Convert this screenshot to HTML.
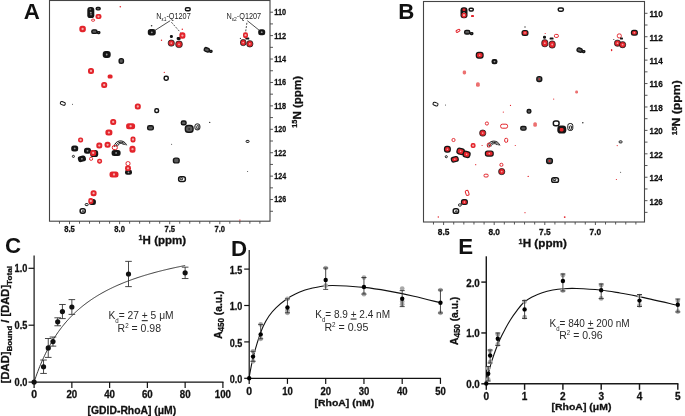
<!DOCTYPE html>
<html><head><meta charset="utf-8"><style>
html,body{margin:0;padding:0;background:#fff;width:685px;height:416px;overflow:hidden}
svg text{font-family:"Liberation Sans",sans-serif}
</style></head><body>
<svg width="685" height="416" viewBox="0 0 685 416" style="display:block;will-change:transform">
<g font-family='"Liberation Sans", sans-serif' fill="#111">
<rect x="0" y="0" width="685" height="416" fill="#fff"/>
<rect x="49.5" y="0.5" width="220.5" height="220.7" fill="none" stroke="#444" stroke-width="1.1"/>
<line x1="59.48" y1="221.2" x2="59.48" y2="223.7" stroke="#444" stroke-width="0.9"/>
<line x1="69.50" y1="221.2" x2="69.50" y2="224.2" stroke="#444" stroke-width="0.9"/>
<line x1="79.52" y1="221.2" x2="79.52" y2="223.7" stroke="#444" stroke-width="0.9"/>
<line x1="89.54" y1="221.2" x2="89.54" y2="223.7" stroke="#444" stroke-width="0.9"/>
<line x1="99.56" y1="221.2" x2="99.56" y2="223.7" stroke="#444" stroke-width="0.9"/>
<line x1="109.58" y1="221.2" x2="109.58" y2="223.7" stroke="#444" stroke-width="0.9"/>
<line x1="119.60" y1="221.2" x2="119.60" y2="224.2" stroke="#444" stroke-width="0.9"/>
<line x1="129.62" y1="221.2" x2="129.62" y2="223.7" stroke="#444" stroke-width="0.9"/>
<line x1="139.64" y1="221.2" x2="139.64" y2="223.7" stroke="#444" stroke-width="0.9"/>
<line x1="149.66" y1="221.2" x2="149.66" y2="223.7" stroke="#444" stroke-width="0.9"/>
<line x1="159.68" y1="221.2" x2="159.68" y2="223.7" stroke="#444" stroke-width="0.9"/>
<line x1="169.70" y1="221.2" x2="169.70" y2="224.2" stroke="#444" stroke-width="0.9"/>
<line x1="179.72" y1="221.2" x2="179.72" y2="223.7" stroke="#444" stroke-width="0.9"/>
<line x1="189.74" y1="221.2" x2="189.74" y2="223.7" stroke="#444" stroke-width="0.9"/>
<line x1="199.76" y1="221.2" x2="199.76" y2="223.7" stroke="#444" stroke-width="0.9"/>
<line x1="209.78" y1="221.2" x2="209.78" y2="223.7" stroke="#444" stroke-width="0.9"/>
<line x1="219.80" y1="221.2" x2="219.80" y2="224.2" stroke="#444" stroke-width="0.9"/>
<line x1="229.82" y1="221.2" x2="229.82" y2="223.7" stroke="#444" stroke-width="0.9"/>
<line x1="239.84" y1="221.2" x2="239.84" y2="223.7" stroke="#444" stroke-width="0.9"/>
<line x1="249.86" y1="221.2" x2="249.86" y2="223.7" stroke="#444" stroke-width="0.9"/>
<line x1="259.88" y1="221.2" x2="259.88" y2="223.7" stroke="#444" stroke-width="0.9"/>
<text x="69.50" y="231.9" text-anchor="middle" font-size="8.6" font-weight="bold" stroke="#111" stroke-width="0.28" textLength="10.6" lengthAdjust="spacingAndGlyphs">8.5</text>
<text x="119.60" y="231.9" text-anchor="middle" font-size="8.6" font-weight="bold" stroke="#111" stroke-width="0.28" textLength="10.6" lengthAdjust="spacingAndGlyphs">8.0</text>
<text x="169.70" y="231.9" text-anchor="middle" font-size="8.6" font-weight="bold" stroke="#111" stroke-width="0.28" textLength="10.6" lengthAdjust="spacingAndGlyphs">7.5</text>
<text x="219.80" y="231.9" text-anchor="middle" font-size="8.6" font-weight="bold" stroke="#111" stroke-width="0.28" textLength="10.6" lengthAdjust="spacingAndGlyphs">7.0</text>
<line x1="270" y1="12.20" x2="273" y2="12.20" stroke="#444" stroke-width="0.9"/>
<text x="274.3" y="15.10" font-size="8.8" font-weight="bold" stroke="#111" stroke-width="0.28" textLength="11.8" lengthAdjust="spacingAndGlyphs">110</text>
<line x1="270" y1="23.91" x2="273" y2="23.91" stroke="#444" stroke-width="0.9"/>
<line x1="270" y1="35.62" x2="273" y2="35.62" stroke="#444" stroke-width="0.9"/>
<text x="274.3" y="38.52" font-size="8.8" font-weight="bold" stroke="#111" stroke-width="0.28" textLength="11.8" lengthAdjust="spacingAndGlyphs">112</text>
<line x1="270" y1="47.33" x2="273" y2="47.33" stroke="#444" stroke-width="0.9"/>
<line x1="270" y1="59.04" x2="273" y2="59.04" stroke="#444" stroke-width="0.9"/>
<text x="274.3" y="61.94" font-size="8.8" font-weight="bold" stroke="#111" stroke-width="0.28" textLength="11.8" lengthAdjust="spacingAndGlyphs">114</text>
<line x1="270" y1="70.75" x2="273" y2="70.75" stroke="#444" stroke-width="0.9"/>
<line x1="270" y1="82.46" x2="273" y2="82.46" stroke="#444" stroke-width="0.9"/>
<text x="274.3" y="85.36" font-size="8.8" font-weight="bold" stroke="#111" stroke-width="0.28" textLength="11.8" lengthAdjust="spacingAndGlyphs">116</text>
<line x1="270" y1="94.17" x2="273" y2="94.17" stroke="#444" stroke-width="0.9"/>
<line x1="270" y1="105.88" x2="273" y2="105.88" stroke="#444" stroke-width="0.9"/>
<text x="274.3" y="108.78" font-size="8.8" font-weight="bold" stroke="#111" stroke-width="0.28" textLength="11.8" lengthAdjust="spacingAndGlyphs">118</text>
<line x1="270" y1="117.59" x2="273" y2="117.59" stroke="#444" stroke-width="0.9"/>
<line x1="270" y1="129.30" x2="273" y2="129.30" stroke="#444" stroke-width="0.9"/>
<text x="274.3" y="132.20" font-size="8.8" font-weight="bold" stroke="#111" stroke-width="0.28" textLength="11.8" lengthAdjust="spacingAndGlyphs">120</text>
<line x1="270" y1="141.01" x2="273" y2="141.01" stroke="#444" stroke-width="0.9"/>
<line x1="270" y1="152.72" x2="273" y2="152.72" stroke="#444" stroke-width="0.9"/>
<text x="274.3" y="155.62" font-size="8.8" font-weight="bold" stroke="#111" stroke-width="0.28" textLength="11.8" lengthAdjust="spacingAndGlyphs">122</text>
<line x1="270" y1="164.43" x2="273" y2="164.43" stroke="#444" stroke-width="0.9"/>
<line x1="270" y1="176.14" x2="273" y2="176.14" stroke="#444" stroke-width="0.9"/>
<text x="274.3" y="179.04" font-size="8.8" font-weight="bold" stroke="#111" stroke-width="0.28" textLength="11.8" lengthAdjust="spacingAndGlyphs">124</text>
<line x1="270" y1="187.85" x2="273" y2="187.85" stroke="#444" stroke-width="0.9"/>
<line x1="270" y1="199.56" x2="273" y2="199.56" stroke="#444" stroke-width="0.9"/>
<text x="274.3" y="202.46" font-size="8.8" font-weight="bold" stroke="#111" stroke-width="0.28" textLength="11.8" lengthAdjust="spacingAndGlyphs">126</text>
<line x1="270" y1="211.27" x2="273" y2="211.27" stroke="#444" stroke-width="0.9"/>
<text x="138.6" y="243.9" font-size="10.8" font-weight="bold" stroke="#111" stroke-width="0.28" textLength="47.6" lengthAdjust="spacingAndGlyphs"><tspan font-size="6.8" dy="-3.8">1</tspan><tspan dy="3.8">H (ppm)</tspan></text>
<rect x="87.30" y="7.10" width="7.00" height="11.00" rx="2.94" ry="2.94" fill="#151515"/>
<circle cx="90.8" cy="12.6" r="0.9" fill="#9a9a9a"/>
<circle cx="90.3" cy="9.3" r="0.95" fill="#6a6a6a"/>
<circle cx="91" cy="14.6" r="1.0" fill="#6a6a6a"/>
<rect x="96.25" y="7.35" width="3.90" height="2.50" rx="1.05" ry="1.05" fill="#5a5a5a" stroke="#151515" stroke-width="1.4"/>
<rect x="91.85" y="29.85" width="5.10" height="3.50" rx="1.47" ry="1.47" fill="#5a5a5a" stroke="#151515" stroke-width="1.4"/>
<rect x="97.45" y="31.75" width="2.30" height="1.70" rx="0.71" ry="0.71" fill="none" stroke="#151515" stroke-width="1.5"/>
<rect x="147.80" y="29.05" width="8.00" height="6.50" rx="2.73" ry="2.73" fill="#151515"/>
<circle cx="151.8" cy="32.3" r="0.9" fill="#9a9a9a"/>
<circle cx="151.6" cy="25.8" r="0.8" fill="#333"/>
<rect x="185.45" y="7.65" width="4.70" height="3.10" rx="1.30" ry="1.30" fill="none" stroke="#151515" stroke-width="1.5"/>
<rect x="169.90" y="34.90" width="3.00" height="3.00" rx="1.26" ry="1.26" fill="#151515"/>
<rect x="176.70" y="36.90" width="4.00" height="3.00" rx="1.26" ry="1.26" fill="#151515"/>
<rect x="258.20" y="29.20" width="7.00" height="6.00" rx="2.52" ry="2.52" fill="#151515"/>
<circle cx="261.7" cy="32.2" r="0.9" fill="#9a9a9a"/>
<rect x="245.30" y="37.60" width="4.00" height="2.00" rx="0.84" ry="0.84" fill="#151515"/>
<circle cx="240.4" cy="38.4" r="0.6" fill="#333"/>
<rect x="204.25" y="47.95" width="5.10" height="3.70" rx="1.55" ry="1.55" fill="#5a5a5a" stroke="#151515" stroke-width="1.4" transform="rotate(20 206.8 49.8)"/>
<rect x="209.65" y="50.55" width="2.30" height="1.70" rx="0.71" ry="0.71" fill="none" stroke="#151515" stroke-width="1.5"/>
<rect x="102.70" y="51.00" width="8.00" height="7.00" rx="2.94" ry="2.94" fill="#151515"/>
<circle cx="106.7" cy="54.5" r="0.9" fill="#9a9a9a"/>
<rect x="119.15" y="58.65" width="4.30" height="4.70" rx="1.81" ry="1.81" fill="#5a5a5a" stroke="#151515" stroke-width="1.4"/>
<rect x="60.30" y="101.90" width="5.00" height="3.00" rx="1.26" ry="1.26" fill="none" stroke="#151515" stroke-width="1" transform="rotate(20 62.8 103.4)"/>
<circle cx="72.5" cy="104.2" r="0.5" fill="#333"/>
<rect x="154.85" y="108.85" width="3.70" height="3.70" rx="1.55" ry="1.55" fill="none" stroke="#151515" stroke-width="1.5"/>
<rect x="164.15" y="76.35" width="4.10" height="3.90" rx="1.64" ry="1.64" fill="none" stroke="#151515" stroke-width="1.5"/>
<rect x="147.65" y="125.75" width="5.70" height="4.10" rx="1.72" ry="1.72" fill="#5a5a5a" stroke="#151515" stroke-width="1.4"/>
<g fill="none" stroke="#151515" stroke-width="1"><path d="M114.20,146.90 C114.70,139.50 124.60,138.90 126.60,145.30"/><path d="M116.00,146.50 C116.40,141.50 123.60,140.90 125.20,145.10"/><path d="M117.60,146.30 C118.00,143.10 122.60,142.50 123.60,144.90"/></g>
<rect x="71.20" y="145.40" width="7.00" height="6.00" rx="2.52" ry="2.52" fill="#151515"/>
<circle cx="74.7" cy="148.4" r="0.9" fill="#9a9a9a"/>
<rect x="84.00" y="147.80" width="7.00" height="6.00" rx="2.52" ry="2.52" fill="#151515"/>
<circle cx="87.5" cy="150.8" r="0.9" fill="#9a9a9a"/>
<rect x="90.20" y="150.10" width="8.00" height="7.00" rx="2.94" ry="2.94" fill="#151515"/>
<circle cx="94.2" cy="153.6" r="0.9" fill="#9a9a9a"/>
<rect x="111.60" y="149.90" width="9.00" height="6.00" rx="2.52" ry="2.52" fill="#151515"/>
<circle cx="116.1" cy="152.9" r="0.9" fill="#9a9a9a"/>
<rect x="72.40" y="155.40" width="2.00" height="2.00" rx="0.84" ry="0.84" fill="none" stroke="#151515" stroke-width="1"/>
<rect x="77.90" y="155.80" width="8.00" height="6.00" rx="2.52" ry="2.52" fill="#151515" transform="rotate(-15 81.9 158.8)"/>
<circle cx="81.9" cy="158.8" r="0.9" fill="#9a9a9a"/>
<rect x="125.00" y="169.80" width="7.00" height="5.00" rx="2.10" ry="2.10" fill="#151515"/>
<circle cx="128.5" cy="172.3" r="0.9" fill="#9a9a9a"/>
<rect x="88.90" y="199.10" width="7.00" height="6.00" rx="2.52" ry="2.52" fill="#151515"/>
<circle cx="92.4" cy="202.1" r="0.9" fill="#9a9a9a"/>
<rect x="85.20" y="203.60" width="3.00" height="2.00" rx="0.84" ry="0.84" fill="none" stroke="#151515" stroke-width="1"/>
<rect x="80.15" y="208.85" width="5.10" height="4.30" rx="1.81" ry="1.81" fill="none" stroke="#151515" stroke-width="1.5"/>
<rect x="82.20" y="210.70" width="1.60" height="1.20" rx="0.50" ry="0.50" fill="none" stroke="#151515" stroke-width="1"/>
<rect x="181.35" y="121.05" width="4.70" height="3.70" rx="1.55" ry="1.55" fill="#5a5a5a" stroke="#151515" stroke-width="1.4"/>
<rect x="185.35" y="125.55" width="7.70" height="6.70" rx="2.81" ry="2.81" fill="#5a5a5a" stroke="#151515" stroke-width="1.4"/>
<circle cx="189.2" cy="129" r="1.0" fill="#333"/>
<rect x="194.90" y="123.90" width="5.00" height="6.00" rx="2.10" ry="2.10" fill="none" stroke="#151515" stroke-width="1"/>
<rect x="196.80" y="125.60" width="2.00" height="3.40" rx="0.84" ry="0.84" fill="none" stroke="#151515" stroke-width="1"/>
<circle cx="209.7" cy="122.4" r="0.7" fill="#333"/>
<circle cx="171.6" cy="144.3" r="0.5" fill="#333"/>
<rect x="246.10" y="140.40" width="3.00" height="2.00" rx="0.84" ry="0.84" fill="none" stroke="#151515" stroke-width="1"/>
<rect x="173.45" y="158.15" width="5.70" height="4.70" rx="1.97" ry="1.97" fill="#5a5a5a" stroke="#151515" stroke-width="1.4"/>
<rect x="178.65" y="176.75" width="6.70" height="4.70" rx="1.97" ry="1.97" fill="none" stroke="#151515" stroke-width="1.5"/>
<rect x="180.10" y="177.90" width="2.60" height="1.80" rx="0.76" ry="0.76" fill="none" stroke="#151515" stroke-width="1"/>
<circle cx="247.6" cy="171.6" r="0.5" fill="#333"/>
<rect x="95.50" y="14.10" width="6.00" height="5.00" rx="2.10" ry="2.10" fill="#e3242b"/>
<circle cx="98.5" cy="16.6" r="1.15" fill="#f4aaaa"/>
<rect x="91.60" y="19.20" width="3.00" height="2.00" rx="0.84" ry="0.84" fill="none" stroke="#e3242b" stroke-width="1"/>
<rect x="79.35" y="25.85" width="6.50" height="6.30" rx="2.65" ry="2.65" fill="#e3242b"/>
<circle cx="82.6" cy="29" r="1.15" fill="#f4aaaa"/>
<circle cx="120.3" cy="6.8" r="0.8" fill="#e3242b"/>
<rect x="179.40" y="32.35" width="6.00" height="6.50" rx="2.52" ry="2.52" fill="#e3242b"/>
<circle cx="182.4" cy="35.6" r="1.15" fill="#f4aaaa"/>
<circle cx="182.3" cy="29.2" r="0.7" fill="#e3242b"/>
<rect x="168.30" y="40.10" width="6.00" height="6.00" rx="2.52" ry="2.52" fill="#e3242b" stroke="#151515" stroke-width="0.8"/>
<circle cx="171.3" cy="43.1" r="0.9" fill="#f5a0a0"/>
<rect x="175.75" y="41.05" width="6.50" height="6.50" rx="2.73" ry="2.73" fill="#e3242b" stroke="#151515" stroke-width="0.8"/>
<circle cx="179" cy="44.3" r="0.9" fill="#f5a0a0"/>
<circle cx="161.5" cy="40.3" r="0.7" fill="#e3242b"/>
<rect x="243.00" y="32.20" width="5.00" height="6.00" rx="2.10" ry="2.10" fill="#e3242b"/>
<circle cx="245.5" cy="35.2" r="1.15" fill="#f4aaaa"/>
<rect x="240.50" y="39.60" width="5.40" height="6.00" rx="2.27" ry="2.27" fill="#e3242b" stroke="#151515" stroke-width="0.8"/>
<circle cx="243.2" cy="42.6" r="0.9" fill="#f5a0a0"/>
<rect x="246.80" y="40.70" width="6.00" height="6.20" rx="2.52" ry="2.52" fill="#e3242b" stroke="#151515" stroke-width="0.8"/>
<circle cx="249.8" cy="43.8" r="0.9" fill="#f5a0a0"/>
<rect x="88.00" y="68.00" width="6.00" height="6.00" rx="2.52" ry="2.52" fill="#e3242b"/>
<circle cx="91" cy="71" r="1.15" fill="#f4aaaa"/>
<rect x="107.60" y="74.60" width="5.00" height="4.00" rx="1.68" ry="1.68" fill="#e3242b"/>
<rect x="101.20" y="82.00" width="6.00" height="6.00" rx="2.52" ry="2.52" fill="#e3242b"/>
<circle cx="104.2" cy="85" r="1.15" fill="#f4aaaa"/>
<rect x="134.80" y="103.50" width="6.00" height="6.00" rx="2.52" ry="2.52" fill="#e3242b"/>
<circle cx="137.8" cy="106.5" r="1.15" fill="#f4aaaa"/>
<circle cx="164.3" cy="72.4" r="0.6" fill="#e3242b"/>
<rect x="110.20" y="118.90" width="6.00" height="6.00" rx="2.52" ry="2.52" fill="#e3242b"/>
<circle cx="113.2" cy="121.9" r="1.15" fill="#f4aaaa"/>
<rect x="126.10" y="123.20" width="9.00" height="6.00" rx="2.52" ry="2.52" fill="#e3242b"/>
<circle cx="130.6" cy="126.2" r="1.15" fill="#f4aaaa"/>
<rect x="105.40" y="129.60" width="7.00" height="6.00" rx="2.52" ry="2.52" fill="#e3242b"/>
<circle cx="108.9" cy="132.6" r="1.15" fill="#f4aaaa"/>
<rect x="78.10" y="137.50" width="5.00" height="5.00" rx="2.10" ry="2.10" fill="#e3242b"/>
<circle cx="80.6" cy="140" r="1.15" fill="#f4aaaa"/>
<rect x="130.50" y="136.50" width="5.00" height="6.00" rx="2.10" ry="2.10" fill="#e3242b"/>
<circle cx="133" cy="139.5" r="1.15" fill="#f4aaaa"/>
<rect x="96.30" y="142.60" width="6.00" height="6.00" rx="2.52" ry="2.52" fill="#e3242b"/>
<circle cx="99.3" cy="145.6" r="1.15" fill="#f4aaaa"/>
<rect x="104.60" y="141.80" width="6.00" height="6.00" rx="2.52" ry="2.52" fill="#e3242b"/>
<circle cx="107.6" cy="144.8" r="1.15" fill="#f4aaaa"/>
<rect x="112.30" y="145.60" width="5.00" height="4.00" rx="1.68" ry="1.68" fill="none" stroke="#e3242b" stroke-width="1"/>
<rect x="129.50" y="145.70" width="6.00" height="7.00" rx="2.52" ry="2.52" fill="#e3242b"/>
<circle cx="132.5" cy="149.2" r="1.15" fill="#f4aaaa"/>
<rect x="90.20" y="149.90" width="6.00" height="6.00" rx="2.52" ry="2.52" fill="#e3242b"/>
<circle cx="93.2" cy="152.9" r="1.15" fill="#f4aaaa"/>
<rect x="89.60" y="157.30" width="3.00" height="3.00" rx="1.26" ry="1.26" fill="none" stroke="#e3242b" stroke-width="1"/>
<rect x="97.10" y="158.70" width="5.00" height="5.00" rx="2.10" ry="2.10" fill="#e3242b"/>
<circle cx="99.6" cy="161.2" r="1.15" fill="#f4aaaa"/>
<rect x="126.00" y="161.60" width="4.00" height="4.00" rx="1.68" ry="1.68" fill="none" stroke="#e3242b" stroke-width="1"/>
<rect x="125.00" y="165.50" width="6.00" height="5.60" rx="2.35" ry="2.35" fill="#e3242b"/>
<circle cx="128" cy="168.3" r="1.15" fill="#f4aaaa"/>
<rect x="109.50" y="171.50" width="9.00" height="6.00" rx="2.52" ry="2.52" fill="#e3242b"/>
<circle cx="114" cy="174.5" r="1.15" fill="#f4aaaa"/>
<rect x="90.60" y="190.20" width="6.00" height="6.00" rx="2.52" ry="2.52" fill="#e3242b"/>
<circle cx="93.6" cy="193.2" r="1.15" fill="#f4aaaa"/>
<rect x="88.30" y="198.00" width="5.00" height="6.00" rx="2.10" ry="2.10" fill="#e3242b"/>
<circle cx="90.8" cy="201" r="1.15" fill="#f4aaaa"/>
<circle cx="239.9" cy="220.1" r="0.7" fill="#e3242b"/>
<rect x="423.5" y="1.5" width="221.0" height="220.5" fill="none" stroke="#444" stroke-width="1.1"/>
<line x1="433.48" y1="222" x2="433.48" y2="224.5" stroke="#444" stroke-width="0.9"/>
<line x1="443.60" y1="222" x2="443.60" y2="225" stroke="#444" stroke-width="0.9"/>
<line x1="453.72" y1="222" x2="453.72" y2="224.5" stroke="#444" stroke-width="0.9"/>
<line x1="463.84" y1="222" x2="463.84" y2="224.5" stroke="#444" stroke-width="0.9"/>
<line x1="473.96" y1="222" x2="473.96" y2="224.5" stroke="#444" stroke-width="0.9"/>
<line x1="484.08" y1="222" x2="484.08" y2="224.5" stroke="#444" stroke-width="0.9"/>
<line x1="494.20" y1="222" x2="494.20" y2="225" stroke="#444" stroke-width="0.9"/>
<line x1="504.32" y1="222" x2="504.32" y2="224.5" stroke="#444" stroke-width="0.9"/>
<line x1="514.44" y1="222" x2="514.44" y2="224.5" stroke="#444" stroke-width="0.9"/>
<line x1="524.56" y1="222" x2="524.56" y2="224.5" stroke="#444" stroke-width="0.9"/>
<line x1="534.68" y1="222" x2="534.68" y2="224.5" stroke="#444" stroke-width="0.9"/>
<line x1="544.80" y1="222" x2="544.80" y2="225" stroke="#444" stroke-width="0.9"/>
<line x1="554.92" y1="222" x2="554.92" y2="224.5" stroke="#444" stroke-width="0.9"/>
<line x1="565.04" y1="222" x2="565.04" y2="224.5" stroke="#444" stroke-width="0.9"/>
<line x1="575.16" y1="222" x2="575.16" y2="224.5" stroke="#444" stroke-width="0.9"/>
<line x1="585.28" y1="222" x2="585.28" y2="224.5" stroke="#444" stroke-width="0.9"/>
<line x1="595.40" y1="222" x2="595.40" y2="225" stroke="#444" stroke-width="0.9"/>
<line x1="605.52" y1="222" x2="605.52" y2="224.5" stroke="#444" stroke-width="0.9"/>
<line x1="615.64" y1="222" x2="615.64" y2="224.5" stroke="#444" stroke-width="0.9"/>
<line x1="625.76" y1="222" x2="625.76" y2="224.5" stroke="#444" stroke-width="0.9"/>
<line x1="635.88" y1="222" x2="635.88" y2="224.5" stroke="#444" stroke-width="0.9"/>
<text x="443.60" y="234.6" text-anchor="middle" font-size="8.6" font-weight="bold" stroke="#111" stroke-width="0.28" textLength="11.6" lengthAdjust="spacingAndGlyphs">8.5</text>
<text x="494.20" y="234.6" text-anchor="middle" font-size="8.6" font-weight="bold" stroke="#111" stroke-width="0.28" textLength="11.6" lengthAdjust="spacingAndGlyphs">8.0</text>
<text x="544.80" y="234.6" text-anchor="middle" font-size="8.6" font-weight="bold" stroke="#111" stroke-width="0.28" textLength="11.6" lengthAdjust="spacingAndGlyphs">7.5</text>
<text x="595.40" y="234.6" text-anchor="middle" font-size="8.6" font-weight="bold" stroke="#111" stroke-width="0.28" textLength="11.6" lengthAdjust="spacingAndGlyphs">7.0</text>
<line x1="644.5" y1="13.30" x2="647.5" y2="13.30" stroke="#444" stroke-width="0.9"/>
<text x="649.5" y="17.20" font-size="8.8" font-weight="bold" stroke="#111" stroke-width="0.28" textLength="13.2" lengthAdjust="spacingAndGlyphs">110</text>
<line x1="644.5" y1="25.01" x2="647.5" y2="25.01" stroke="#444" stroke-width="0.9"/>
<line x1="644.5" y1="36.72" x2="647.5" y2="36.72" stroke="#444" stroke-width="0.9"/>
<text x="649.5" y="40.62" font-size="8.8" font-weight="bold" stroke="#111" stroke-width="0.28" textLength="13.2" lengthAdjust="spacingAndGlyphs">112</text>
<line x1="644.5" y1="48.43" x2="647.5" y2="48.43" stroke="#444" stroke-width="0.9"/>
<line x1="644.5" y1="60.14" x2="647.5" y2="60.14" stroke="#444" stroke-width="0.9"/>
<text x="649.5" y="64.04" font-size="8.8" font-weight="bold" stroke="#111" stroke-width="0.28" textLength="13.2" lengthAdjust="spacingAndGlyphs">114</text>
<line x1="644.5" y1="71.85" x2="647.5" y2="71.85" stroke="#444" stroke-width="0.9"/>
<line x1="644.5" y1="83.56" x2="647.5" y2="83.56" stroke="#444" stroke-width="0.9"/>
<text x="649.5" y="87.46" font-size="8.8" font-weight="bold" stroke="#111" stroke-width="0.28" textLength="13.2" lengthAdjust="spacingAndGlyphs">116</text>
<line x1="644.5" y1="95.27" x2="647.5" y2="95.27" stroke="#444" stroke-width="0.9"/>
<line x1="644.5" y1="106.98" x2="647.5" y2="106.98" stroke="#444" stroke-width="0.9"/>
<text x="649.5" y="110.88" font-size="8.8" font-weight="bold" stroke="#111" stroke-width="0.28" textLength="13.2" lengthAdjust="spacingAndGlyphs">118</text>
<line x1="644.5" y1="118.69" x2="647.5" y2="118.69" stroke="#444" stroke-width="0.9"/>
<line x1="644.5" y1="130.40" x2="647.5" y2="130.40" stroke="#444" stroke-width="0.9"/>
<text x="649.5" y="134.30" font-size="8.8" font-weight="bold" stroke="#111" stroke-width="0.28" textLength="13.2" lengthAdjust="spacingAndGlyphs">120</text>
<line x1="644.5" y1="142.11" x2="647.5" y2="142.11" stroke="#444" stroke-width="0.9"/>
<line x1="644.5" y1="153.82" x2="647.5" y2="153.82" stroke="#444" stroke-width="0.9"/>
<text x="649.5" y="157.72" font-size="8.8" font-weight="bold" stroke="#111" stroke-width="0.28" textLength="13.2" lengthAdjust="spacingAndGlyphs">122</text>
<line x1="644.5" y1="165.53" x2="647.5" y2="165.53" stroke="#444" stroke-width="0.9"/>
<line x1="644.5" y1="177.24" x2="647.5" y2="177.24" stroke="#444" stroke-width="0.9"/>
<text x="649.5" y="181.14" font-size="8.8" font-weight="bold" stroke="#111" stroke-width="0.28" textLength="13.2" lengthAdjust="spacingAndGlyphs">124</text>
<line x1="644.5" y1="188.95" x2="647.5" y2="188.95" stroke="#444" stroke-width="0.9"/>
<line x1="644.5" y1="200.66" x2="647.5" y2="200.66" stroke="#444" stroke-width="0.9"/>
<text x="649.5" y="204.56" font-size="8.8" font-weight="bold" stroke="#111" stroke-width="0.28" textLength="13.2" lengthAdjust="spacingAndGlyphs">126</text>
<line x1="644.5" y1="212.37" x2="647.5" y2="212.37" stroke="#444" stroke-width="0.9"/>
<text x="518.6" y="247.3" font-size="10.8" font-weight="bold" stroke="#111" stroke-width="0.28" textLength="48.2" lengthAdjust="spacingAndGlyphs"><tspan font-size="6.8" dy="-3.8">1</tspan><tspan dy="3.8">H (ppm)</tspan></text>
<rect x="460.50" y="7.30" width="7.00" height="11.00" rx="2.94" ry="2.94" fill="#151515"/>
<circle cx="464" cy="12.8" r="0.9" fill="#9a9a9a"/>
<rect x="461.50" y="12.70" width="5.00" height="5.00" rx="2.10" ry="2.10" fill="#e3242b"/>
<circle cx="464" cy="15.2" r="1.15" fill="#f4aaaa"/>
<rect x="462.50" y="8.50" width="3.00" height="2.60" rx="1.09" ry="1.09" fill="#e3242b"/>
<rect x="469.15" y="8.15" width="4.10" height="2.90" rx="1.22" ry="1.22" fill="none" stroke="#151515" stroke-width="1.5"/>
<rect x="471.00" y="15.10" width="3.00" height="2.00" rx="0.84" ry="0.84" fill="#e3242b"/>
<rect x="456.00" y="29.80" width="4.00" height="2.00" rx="0.84" ry="0.84" fill="none" stroke="#e3242b" stroke-width="1" transform="rotate(-30 458 30.8)"/>
<rect x="464.65" y="30.35" width="5.10" height="3.70" rx="1.55" ry="1.55" fill="#5a5a5a" stroke="#151515" stroke-width="1.4"/>
<rect x="470.45" y="32.75" width="2.30" height="1.70" rx="0.71" ry="0.71" fill="none" stroke="#151515" stroke-width="1.5"/>
<rect x="521.50" y="29.90" width="7.00" height="6.00" rx="2.52" ry="2.52" fill="#151515"/>
<rect x="522.70" y="31.10" width="4.60" height="3.60" rx="1.51" ry="1.51" fill="#e3242b"/>
<circle cx="525" cy="32.9" r="0.8" fill="#f5a0a0"/>
<circle cx="525" cy="27" r="0.7" fill="#333"/>
<rect x="475.70" y="51.70" width="8.00" height="7.00" rx="2.94" ry="2.94" fill="#151515"/>
<rect x="476.90" y="52.90" width="5.60" height="4.60" rx="1.93" ry="1.93" fill="#e3242b"/>
<circle cx="479.7" cy="55.2" r="0.8" fill="#f5a0a0"/>
<rect x="491.50" y="58.90" width="6.00" height="5.40" rx="2.27" ry="2.27" fill="#151515"/>
<circle cx="494.5" cy="61.6" r="0.9" fill="#9a9a9a"/>
<rect x="558.25" y="7.95" width="5.10" height="3.30" rx="1.39" ry="1.39" fill="none" stroke="#151515" stroke-width="1.5"/>
<rect x="543.00" y="35.70" width="3.00" height="3.00" rx="1.26" ry="1.26" fill="#151515"/>
<circle cx="545.2" cy="33.5" r="0.6" fill="#e3242b"/>
<rect x="541.80" y="39.70" width="6.00" height="7.00" rx="2.52" ry="2.52" fill="#e3242b" stroke="#151515" stroke-width="0.8"/>
<circle cx="544.8" cy="43.2" r="0.9" fill="#f5a0a0"/>
<rect x="549.60" y="37.60" width="4.00" height="2.00" rx="0.84" ry="0.84" fill="#151515"/>
<rect x="549.20" y="41.00" width="6.00" height="7.00" rx="2.52" ry="2.52" fill="#e3242b" stroke="#151515" stroke-width="0.8"/>
<circle cx="552.2" cy="44.5" r="0.9" fill="#f5a0a0"/>
<rect x="554.40" y="34.40" width="4.00" height="3.00" rx="1.26" ry="1.26" fill="none" stroke="#e3242b" stroke-width="1"/>
<rect x="577.05" y="48.25" width="5.10" height="3.70" rx="1.55" ry="1.55" fill="#5a5a5a" stroke="#151515" stroke-width="1.4" transform="rotate(20 579.6 50.1)"/>
<rect x="582.45" y="50.75" width="2.30" height="1.70" rx="0.71" ry="0.71" fill="none" stroke="#151515" stroke-width="1.5"/>
<rect x="617.30" y="33.90" width="4.00" height="4.00" rx="1.68" ry="1.68" fill="none" stroke="#e3242b" stroke-width="1"/>
<rect x="620.00" y="37.60" width="3.00" height="2.00" rx="0.84" ry="0.84" fill="#151515"/>
<rect x="614.50" y="40.20" width="6.00" height="6.00" rx="2.52" ry="2.52" fill="#e3242b" stroke="#151515" stroke-width="0.8"/>
<circle cx="617.5" cy="43.2" r="0.9" fill="#f5a0a0"/>
<rect x="619.60" y="41.70" width="6.00" height="6.00" rx="2.52" ry="2.52" fill="#e3242b" stroke="#151515" stroke-width="0.8"/>
<circle cx="622.6" cy="44.7" r="0.9" fill="#f5a0a0"/>
<circle cx="613.8" cy="39.5" r="0.6" fill="#333"/>
<circle cx="611.6" cy="49.7" r="0.7" fill="#e3242b"/>
<rect x="630.90" y="29.70" width="7.00" height="6.00" rx="2.52" ry="2.52" fill="#151515"/>
<rect x="632.10" y="30.90" width="4.60" height="3.60" rx="1.51" ry="1.51" fill="#e3242b"/>
<circle cx="634.4" cy="32.7" r="0.8" fill="#f5a0a0"/>
<rect x="462.70" y="70.60" width="3.40" height="3.80" rx="1.43" ry="1.43" fill="#ec7070"/>
<rect x="476.00" y="82.20" width="3.80" height="4.60" rx="1.60" ry="1.60" fill="#ec7070"/>
<rect x="433.00" y="102.60" width="5.00" height="3.00" rx="1.26" ry="1.26" fill="none" stroke="#151515" stroke-width="1" transform="rotate(20 435.5 104.1)"/>
<circle cx="445.5" cy="104.9" r="0.5" fill="#333"/>
<circle cx="510.5" cy="105.4" r="0.6" fill="#e3242b"/>
<circle cx="503.3" cy="112.1" r="0.6" fill="#e3242b"/>
<rect x="527.15" y="109.45" width="3.70" height="3.70" rx="1.55" ry="1.55" fill="#5a5a5a" stroke="#151515" stroke-width="1.4"/>
<rect x="536.85" y="76.65" width="4.90" height="4.90" rx="2.06" ry="2.06" fill="#5a5a5a" stroke="#151515" stroke-width="1.4"/>
<circle cx="539.3" cy="79.1" r="0.8" fill="#e3242b"/>
<rect x="575.20" y="90.60" width="2.80" height="2.80" rx="1.18" ry="1.18" fill="#ec7070"/>
<circle cx="553.7" cy="99.1" r="0.6" fill="#e3242b"/>
<circle cx="611.6" cy="50.5" r="0.7" fill="#e3242b"/>
<rect x="485.40" y="122.00" width="3.00" height="3.00" rx="1.26" ry="1.26" fill="none" stroke="#e3242b" stroke-width="1"/>
<rect x="500.60" y="124.20" width="7.00" height="4.00" rx="1.68" ry="1.68" fill="none" stroke="#e3242b" stroke-width="1"/>
<rect x="520.75" y="126.45" width="5.30" height="3.70" rx="1.55" ry="1.55" fill="#5a5a5a" stroke="#151515" stroke-width="1.4"/>
<rect x="479.70" y="130.10" width="6.00" height="6.00" rx="2.52" ry="2.52" fill="#e3242b" stroke="#151515" stroke-width="0.8"/>
<circle cx="482.7" cy="133.1" r="0.9" fill="#f5a0a0"/>
<rect x="452.00" y="138.50" width="3.00" height="3.00" rx="1.26" ry="1.26" fill="none" stroke="#e3242b" stroke-width="1"/>
<rect x="504.70" y="138.30" width="3.00" height="4.00" rx="1.26" ry="1.26" fill="none" stroke="#e3242b" stroke-width="1"/>
<g fill="none" stroke="#151515" stroke-width="1"><path d="M487.50,147.10 C488.00,139.70 497.90,139.10 499.90,145.50"/><path d="M489.30,146.70 C489.70,141.70 496.90,141.10 498.50,145.30"/><path d="M490.90,146.50 C491.30,143.30 495.90,142.70 496.90,145.10"/></g>
<rect x="470.60" y="143.10" width="5.00" height="5.00" rx="2.10" ry="2.10" fill="#e3242b"/>
<circle cx="473.1" cy="145.6" r="1.15" fill="#f4aaaa"/>
<rect x="487.30" y="143.10" width="3.00" height="4.00" rx="1.26" ry="1.26" fill="none" stroke="#e3242b" stroke-width="1"/>
<circle cx="482.1" cy="145.5" r="0.6" fill="#e3242b"/>
<circle cx="515.3" cy="145.5" r="0.6" fill="#e3242b"/>
<rect x="443.90" y="145.70" width="7.00" height="7.00" rx="2.94" ry="2.94" fill="#151515"/>
<rect x="445.10" y="146.90" width="4.60" height="4.60" rx="1.93" ry="1.93" fill="#e3242b"/>
<circle cx="447.4" cy="149.2" r="0.8" fill="#f5a0a0"/>
<rect x="456.40" y="147.90" width="8.40" height="7.00" rx="2.94" ry="2.94" fill="#151515" transform="rotate(15 460.6 151.4)"/>
<rect x="457.60" y="149.10" width="6.00" height="4.60" rx="1.93" ry="1.93" fill="#e3242b" transform="rotate(15 460.6 151.4)"/>
<circle cx="460.6" cy="151.4" r="0.8" fill="#f5a0a0"/>
<rect x="462.60" y="150.90" width="8.00" height="7.00" rx="2.94" ry="2.94" fill="#151515" transform="rotate(15 466.6 154.4)"/>
<rect x="463.80" y="152.10" width="5.60" height="4.60" rx="1.93" ry="1.93" fill="#e3242b" transform="rotate(15 466.6 154.4)"/>
<circle cx="466.6" cy="154.4" r="0.8" fill="#f5a0a0"/>
<rect x="484.80" y="150.40" width="9.00" height="6.40" rx="2.69" ry="2.69" fill="#151515"/>
<rect x="486.00" y="151.60" width="6.60" height="4.00" rx="1.68" ry="1.68" fill="#e3242b"/>
<circle cx="489.3" cy="153.6" r="0.8" fill="#f5a0a0"/>
<rect x="445.30" y="155.70" width="2.00" height="2.00" rx="0.84" ry="0.84" fill="none" stroke="#151515" stroke-width="1"/>
<rect x="450.80" y="156.30" width="8.00" height="6.00" rx="2.52" ry="2.52" fill="#151515" transform="rotate(-15 454.8 159.3)"/>
<rect x="452.00" y="157.50" width="5.60" height="3.60" rx="1.51" ry="1.51" fill="#e3242b" transform="rotate(-15 454.8 159.3)"/>
<circle cx="454.8" cy="159.3" r="0.8" fill="#f5a0a0"/>
<circle cx="475.7" cy="164.7" r="0.6" fill="#e3242b"/>
<rect x="499.90" y="163.30" width="3.00" height="3.00" rx="1.26" ry="1.26" fill="none" stroke="#e3242b" stroke-width="1"/>
<rect x="498.70" y="168.60" width="6.00" height="6.00" rx="2.52" ry="2.52" fill="#e3242b" stroke="#151515" stroke-width="0.8"/>
<circle cx="501.7" cy="171.6" r="0.9" fill="#f5a0a0"/>
<rect x="484.00" y="174.20" width="4.20" height="2.80" rx="1.18" ry="1.18" fill="none" stroke="#e3242b" stroke-width="1"/>
<circle cx="528.2" cy="176.4" r="0.7" fill="#e3242b"/>
<rect x="465.70" y="190.40" width="3.00" height="5.00" rx="1.26" ry="1.26" fill="none" stroke="#e3242b" stroke-width="1" transform="rotate(-20 467.2 192.9)"/>
<rect x="460.90" y="199.10" width="7.00" height="6.00" rx="2.52" ry="2.52" fill="#151515"/>
<rect x="462.10" y="200.30" width="4.60" height="3.60" rx="1.51" ry="1.51" fill="#e3242b"/>
<circle cx="464.4" cy="202.1" r="0.8" fill="#f5a0a0"/>
<rect x="458.50" y="203.90" width="2.80" height="2.20" rx="0.92" ry="0.92" fill="none" stroke="#151515" stroke-width="1"/>
<rect x="453.25" y="208.85" width="5.30" height="4.50" rx="1.89" ry="1.89" fill="none" stroke="#151515" stroke-width="1.5"/>
<rect x="455.40" y="210.80" width="1.60" height="1.20" rx="0.50" ry="0.50" fill="none" stroke="#151515" stroke-width="1"/>
<circle cx="438.3" cy="217" r="0.7" fill="#e3242b"/>
<circle cx="525" cy="212.7" r="0.6" fill="#e3242b"/>
<rect x="533.30" y="122.20" width="3.60" height="4.60" rx="1.51" ry="1.51" fill="#ec7070"/>
<rect x="553.35" y="120.95" width="5.70" height="4.70" rx="1.97" ry="1.97" fill="none" stroke="#151515" stroke-width="1.5"/>
<rect x="557.30" y="125.60" width="9.00" height="8.00" rx="3.36" ry="3.36" fill="#151515"/>
<circle cx="561.8" cy="129.6" r="0.9" fill="#9a9a9a"/>
<rect x="559.60" y="128.10" width="4.00" height="3.40" rx="1.43" ry="1.43" fill="#e3242b"/>
<rect x="567.80" y="123.50" width="5.00" height="7.00" rx="2.10" ry="2.10" fill="none" stroke="#151515" stroke-width="1"/>
<rect x="569.60" y="125.85" width="2.00" height="3.50" rx="0.84" ry="0.84" fill="none" stroke="#151515" stroke-width="1"/>
<circle cx="582.8" cy="122.8" r="0.8" fill="#333"/>
<rect x="619.10" y="140.90" width="3.00" height="2.00" rx="0.84" ry="0.84" fill="none" stroke="#151515" stroke-width="1"/>
<circle cx="617.2" cy="145.6" r="0.6" fill="#e3242b"/>
<rect x="546.65" y="158.35" width="5.70" height="5.10" rx="2.14" ry="2.14" fill="#5a5a5a" stroke="#151515" stroke-width="1.4"/>
<circle cx="549.5" cy="161" r="0.9" fill="#e3242b"/>
<rect x="551.75" y="177.65" width="6.70" height="4.70" rx="1.97" ry="1.97" fill="none" stroke="#151515" stroke-width="1.5"/>
<rect x="553.20" y="178.80" width="2.60" height="1.80" rx="0.76" ry="0.76" fill="none" stroke="#151515" stroke-width="1"/>
<circle cx="620.6" cy="172.2" r="0.5" fill="#333"/>
<circle cx="616.4" cy="179.5" r="0.6" fill="#e3242b"/>
<circle cx="564.7" cy="217.1" r="0.9" fill="#e3242b"/>
<text transform="translate(300.6 101.9) rotate(-90)" text-anchor="middle" font-size="11" font-weight="bold" stroke="#111" stroke-width="0.28" textLength="51.8" lengthAdjust="spacingAndGlyphs"><tspan font-size="7" dy="-3.8">15</tspan><tspan dy="3.8">N (ppm)</tspan></text>
<text transform="translate(680.3000000000001 107.7) rotate(-90)" text-anchor="middle" font-size="11" font-weight="bold" stroke="#111" stroke-width="0.28" textLength="55" lengthAdjust="spacingAndGlyphs"><tspan font-size="7" dy="-3.8">15</tspan><tspan dy="3.8">N (ppm)</tspan></text>
<g font-size="8.3" fill="#1e1e1e">
<text x="156.3" y="19" textLength="34.4" lengthAdjust="spacingAndGlyphs">N<tspan font-size="5.6" dy="2.4">ε1</tspan><tspan dy="-2.4">-Q1207</tspan></text>
<text x="226.6" y="19" textLength="34.6" lengthAdjust="spacingAndGlyphs">N<tspan font-size="5.6" dy="2.4">ε2</tspan><tspan dy="-2.4">-Q1207</tspan></text>
</g>
<g stroke="#222" stroke-width="0.8" fill="none">
<line x1="170.2" y1="20.7" x2="154" y2="31"/>
<line x1="171.4" y1="22.2" x2="180.5" y2="32.5" stroke-dasharray="2,1.3"/>
<line x1="247.3" y1="20.7" x2="259.5" y2="30.5"/>
<line x1="246.9" y1="22.8" x2="245.6" y2="32" stroke-dasharray="2,1.3"/>
</g>
<g stroke="#111" stroke-width="1.2" fill="none">
<line x1="34.1" y1="255.6" x2="34.1" y2="382.1"/>
<line x1="34.1" y1="382.1" x2="223.49999999999997" y2="382.1"/>
<line x1="28.5" y1="382.10" x2="34.1" y2="382.10"/>
<line x1="28.5" y1="325.20" x2="34.1" y2="325.20"/>
<line x1="28.5" y1="268.30" x2="34.1" y2="268.30"/>
<line x1="34.10" y1="382.1" x2="34.10" y2="387.90000000000003"/>
<line x1="71.86" y1="382.1" x2="71.86" y2="387.90000000000003"/>
<line x1="109.62" y1="382.1" x2="109.62" y2="387.90000000000003"/>
<line x1="147.38" y1="382.1" x2="147.38" y2="387.90000000000003"/>
<line x1="185.14" y1="382.1" x2="185.14" y2="387.90000000000003"/>
<line x1="222.90" y1="382.1" x2="222.90" y2="387.90000000000003"/>
</g>
<polyline points="34.10,382.10 35.04,379.27 35.99,376.53 36.93,373.89 37.88,371.35 38.82,368.89 39.76,366.51 40.71,364.21 41.65,361.98 42.60,359.83 43.54,357.74 44.48,355.72 45.43,353.75 46.37,351.85 47.32,350.00 48.26,348.21 49.20,346.46 50.15,344.77 51.09,343.12 52.04,341.52 52.98,339.96 53.92,338.45 54.87,336.97 55.81,335.53 56.76,334.13 57.70,332.76 58.64,331.43 59.59,330.13 60.53,328.86 61.48,327.63 62.42,326.42 63.36,325.24 64.31,324.09 65.25,322.96 66.20,321.86 67.14,320.79 68.08,319.74 69.03,318.71 69.97,317.70 70.92,316.72 71.86,315.76 72.80,314.81 73.75,313.89 74.69,312.99 75.64,312.10 76.58,311.23 77.52,310.38 78.47,309.55 79.41,308.73 80.36,307.93 81.30,307.15 82.24,306.37 83.19,305.62 84.13,304.88 85.08,304.15 86.02,303.43 86.96,302.73 87.91,302.04 88.85,301.36 89.80,300.70 90.74,300.04 91.68,299.40 92.63,298.77 93.57,298.15 94.52,297.54 95.46,296.94 96.40,296.35 97.35,295.77 98.29,295.20 99.24,294.64 100.18,294.09 101.12,293.55 102.07,293.01 103.01,292.48 103.96,291.97 104.90,291.46 105.84,290.95 106.79,290.46 107.73,289.97 108.68,289.49 109.62,289.02 110.56,288.56 111.51,288.10 112.45,287.65 113.40,287.20 114.34,286.76 115.28,286.33 116.23,285.90 117.17,285.48 118.12,285.07 119.06,284.66 120.00,284.26 120.95,283.86 121.89,283.47 122.84,283.08 123.78,282.70 124.72,282.32 125.67,281.95 126.61,281.58 127.56,281.22 128.50,280.86 129.44,280.51 130.39,280.16 131.33,279.82 132.28,279.48 133.22,279.14 134.16,278.81 135.11,278.49 136.05,278.16 137.00,277.84 137.94,277.53 138.88,277.22 139.83,276.91 140.77,276.61 141.72,276.31 142.66,276.01 143.60,275.72 144.55,275.43 145.49,275.14 146.44,274.86 147.38,274.58 148.32,274.30 149.27,274.03 150.21,273.76 151.16,273.49 152.10,273.23 153.04,272.97 153.99,272.71 154.93,272.45 155.88,272.20 156.82,271.95 157.76,271.70 158.71,271.46 159.65,271.21 160.60,270.98 161.54,270.74 162.48,270.50 163.43,270.27 164.37,270.04 165.32,269.82 166.26,269.59 167.20,269.37 168.15,269.15 169.09,268.93 170.04,268.71 170.98,268.50 171.92,268.29 172.87,268.08 173.81,267.87 174.76,267.67 175.70,267.46 176.64,267.26 177.59,267.06 178.53,266.87 179.48,266.67 180.42,266.48 181.36,266.28 182.31,266.09 183.25,265.91 184.20,265.72 185.14,265.53" fill="none" stroke="#222" stroke-width="0.9"/>
<circle cx="34.10" cy="382.10" r="2.6" fill="#111"/>
<g stroke="#333" stroke-width="0.9"><line x1="43.54" y1="360.02" x2="43.54" y2="373.45"/><line x1="40.24" y1="360.02" x2="46.84" y2="360.02"/><line x1="40.24" y1="373.45" x2="46.84" y2="373.45"/></g>
<circle cx="43.54" cy="366.74" r="2.6" fill="#111"/>
<g stroke="#333" stroke-width="0.9"><line x1="48.26" y1="338.51" x2="48.26" y2="357.41"/><line x1="44.96" y1="338.51" x2="51.56" y2="338.51"/><line x1="44.96" y1="357.41" x2="51.56" y2="357.41"/></g>
<circle cx="48.26" cy="347.96" r="2.6" fill="#111"/>
<g stroke="#333" stroke-width="0.9"><line x1="52.98" y1="337.04" x2="52.98" y2="346.14"/><line x1="49.68" y1="337.04" x2="56.28" y2="337.04"/><line x1="49.68" y1="346.14" x2="56.28" y2="346.14"/></g>
<circle cx="52.98" cy="341.59" r="2.6" fill="#111"/>
<g stroke="#333" stroke-width="0.9"><line x1="57.70" y1="317.80" x2="57.70" y2="325.77"/><line x1="54.40" y1="317.80" x2="61.00" y2="317.80"/><line x1="54.40" y1="325.77" x2="61.00" y2="325.77"/></g>
<circle cx="57.70" cy="321.79" r="2.6" fill="#111"/>
<g stroke="#333" stroke-width="0.9"><line x1="62.42" y1="304.49" x2="62.42" y2="318.60"/><line x1="59.12" y1="304.49" x2="65.72" y2="304.49"/><line x1="59.12" y1="318.60" x2="65.72" y2="318.60"/></g>
<circle cx="62.42" cy="311.54" r="2.6" fill="#111"/>
<g stroke="#333" stroke-width="0.9"><line x1="71.86" y1="299.60" x2="71.86" y2="314.39"/><line x1="68.56" y1="299.60" x2="75.16" y2="299.60"/><line x1="68.56" y1="314.39" x2="75.16" y2="314.39"/></g>
<circle cx="71.86" cy="306.99" r="2.6" fill="#111"/>
<g stroke="#333" stroke-width="0.9"><line x1="128.50" y1="261.36" x2="128.50" y2="286.62"/><line x1="125.20" y1="261.36" x2="131.80" y2="261.36"/><line x1="125.20" y1="286.62" x2="131.80" y2="286.62"/></g>
<circle cx="128.50" cy="273.99" r="2.6" fill="#111"/>
<g stroke="#333" stroke-width="0.9"><line x1="185.14" y1="267.16" x2="185.14" y2="278.54"/><line x1="181.84" y1="267.16" x2="188.44" y2="267.16"/><line x1="181.84" y1="278.54" x2="188.44" y2="278.54"/></g>
<circle cx="185.14" cy="272.85" r="2.6" fill="#111"/>
<text x="27.40" y="385.70" font-size="10.2" font-weight="bold" stroke="#111" stroke-width="0.28" text-anchor="end" textLength="12.8" lengthAdjust="spacingAndGlyphs">0.0</text>
<text x="27.40" y="328.80" font-size="10.2" font-weight="bold" stroke="#111" stroke-width="0.28" text-anchor="end" textLength="12.8" lengthAdjust="spacingAndGlyphs">0.5</text>
<text x="27.40" y="271.90" font-size="10.2" font-weight="bold" stroke="#111" stroke-width="0.28" text-anchor="end" textLength="12.8" lengthAdjust="spacingAndGlyphs">1.0</text>
<text x="34.10" y="398.00" font-size="10" font-weight="bold" stroke="#111" stroke-width="0.28" text-anchor="middle" textLength="5.8" lengthAdjust="spacingAndGlyphs">0</text>
<text x="71.86" y="398.00" font-size="10" font-weight="bold" stroke="#111" stroke-width="0.28" text-anchor="middle" textLength="10.8" lengthAdjust="spacingAndGlyphs">20</text>
<text x="109.62" y="398.00" font-size="10" font-weight="bold" stroke="#111" stroke-width="0.28" text-anchor="middle" textLength="10.8" lengthAdjust="spacingAndGlyphs">40</text>
<text x="147.38" y="398.00" font-size="10" font-weight="bold" stroke="#111" stroke-width="0.28" text-anchor="middle" textLength="10.8" lengthAdjust="spacingAndGlyphs">60</text>
<text x="185.14" y="398.00" font-size="10" font-weight="bold" stroke="#111" stroke-width="0.28" text-anchor="middle" textLength="10.8" lengthAdjust="spacingAndGlyphs">80</text>
<text x="222.90" y="398.00" font-size="10" font-weight="bold" stroke="#111" stroke-width="0.28" text-anchor="middle" textLength="16.2" lengthAdjust="spacingAndGlyphs">100</text>
<text x="87.60" y="413.50" font-size="10.5" font-weight="bold" stroke="#111" stroke-width="0.28" textLength="88.6" lengthAdjust="spacingAndGlyphs">[GDID-RhoA] (μM)</text>
<text transform="translate(8.9 383.2) rotate(-90)" font-size="10.4" font-weight="bold" stroke="#111" stroke-width="0.28" textLength="117.2" lengthAdjust="spacingAndGlyphs">[DAD]<tspan font-size="7.6" dy="2.9">Bound</tspan><tspan dy="-2.9"> / [DAD]</tspan><tspan font-size="7.6" dy="2.9">Total</tspan></text>
<g font-size="11" fill="#2a2a2a"><text x="108.4" y="319.1" textLength="65.2" lengthAdjust="spacingAndGlyphs">K<tspan font-size="6.6" dy="4.2">d</tspan><tspan dy="-4.2">= 27 </tspan><tspan text-decoration="underline">+</tspan> 5 μM</text><text x="117.6" y="331.5" textLength="43.4" lengthAdjust="spacingAndGlyphs">R<tspan font-size="6.5" dy="-4">2</tspan><tspan dy="4"> = 0.98</tspan></text></g>
<g stroke="#111" stroke-width="1.2" fill="none">
<line x1="249.2" y1="250" x2="249.2" y2="378.3"/>
<line x1="249.2" y1="378.3" x2="441.05" y2="378.3"/>
<line x1="244.2" y1="378.30" x2="249.2" y2="378.30"/>
<line x1="244.2" y1="341.90" x2="249.2" y2="341.90"/>
<line x1="244.2" y1="305.50" x2="249.2" y2="305.50"/>
<line x1="244.2" y1="269.10" x2="249.2" y2="269.10"/>
<line x1="249.20" y1="378.3" x2="249.20" y2="383.90000000000003"/>
<line x1="287.45" y1="378.3" x2="287.45" y2="383.90000000000003"/>
<line x1="325.70" y1="378.3" x2="325.70" y2="383.90000000000003"/>
<line x1="363.95" y1="378.3" x2="363.95" y2="383.90000000000003"/>
<line x1="402.20" y1="378.3" x2="402.20" y2="383.90000000000003"/>
<line x1="440.45" y1="378.3" x2="440.45" y2="383.90000000000003"/>
</g>
<path d="M249.10,377.80 C249.62,375.10 250.88,367.30 252.20,361.60 C253.52,355.90 255.20,349.40 257.00,343.60 C258.80,337.80 261.00,331.40 263.00,326.80 C265.00,322.20 266.80,319.20 269.00,316.00 C271.20,312.80 273.20,310.48 276.20,307.60 C279.20,304.72 283.80,300.98 287.00,298.70 C290.20,296.42 292.40,295.35 295.40,293.90 C298.40,292.45 302.40,290.92 305.00,290.00 C307.60,289.08 307.53,289.10 311.00,288.40 C314.47,287.70 321.07,286.25 325.80,285.80 C330.53,285.35 333.03,285.43 339.40,285.70 C345.77,285.97 355.97,286.53 364.00,287.40 C372.03,288.27 379.28,289.43 387.60,290.90 C395.92,292.37 405.15,294.23 413.90,296.20 C422.65,298.17 435.73,301.62 440.10,302.70" fill="none" stroke="#111" stroke-width="1.1"/>
<circle cx="249.20" cy="378.3" r="2.2" fill="#000"/>
<circle cx="253.02" cy="351.3" r="2.35" fill="#a9a9a9"/>
<circle cx="253.02" cy="361.3" r="2.35" fill="#a9a9a9"/>
<g stroke="#333" stroke-width="0.9"><line x1="253.02" y1="351.3" x2="253.02" y2="361.3"/><line x1="250.52" y1="351.3" x2="255.52" y2="351.3"/><line x1="250.52" y1="361.3" x2="255.52" y2="361.3"/></g>
<circle cx="253.02" cy="356.6" r="2.2" fill="#000"/>
<circle cx="260.68" cy="324.4" r="2.35" fill="#a9a9a9"/>
<circle cx="260.68" cy="338.8" r="2.35" fill="#a9a9a9"/>
<g stroke="#333" stroke-width="0.9"><line x1="260.68" y1="324.4" x2="260.68" y2="338.8"/><line x1="258.18" y1="324.4" x2="263.18" y2="324.4"/><line x1="258.18" y1="338.8" x2="263.18" y2="338.8"/></g>
<circle cx="260.68" cy="334.4" r="2.2" fill="#000"/>
<circle cx="287.45" cy="298.8" r="2.35" fill="#a9a9a9"/>
<circle cx="287.45" cy="310.5" r="2.35" fill="#a9a9a9"/>
<circle cx="287.45" cy="312.8" r="2.35" fill="#a9a9a9"/>
<g stroke="#333" stroke-width="0.9"><line x1="287.45" y1="298.8" x2="287.45" y2="312.8"/><line x1="284.95" y1="298.8" x2="289.95" y2="298.8"/><line x1="284.95" y1="312.8" x2="289.95" y2="312.8"/></g>
<circle cx="287.45" cy="307.5" r="2.2" fill="#000"/>
<circle cx="325.70" cy="268" r="2.35" fill="#a9a9a9"/>
<circle cx="325.70" cy="285.6" r="2.35" fill="#a9a9a9"/>
<g stroke="#333" stroke-width="0.9"><line x1="325.70" y1="268" x2="325.70" y2="289.4"/><line x1="323.20" y1="268" x2="328.20" y2="268"/><line x1="323.20" y1="289.4" x2="328.20" y2="289.4"/></g>
<circle cx="325.70" cy="280.0" r="2.2" fill="#000"/>
<circle cx="363.95" cy="277.5" r="2.35" fill="#a9a9a9"/>
<circle cx="363.95" cy="294.2" r="2.35" fill="#a9a9a9"/>
<g stroke="#333" stroke-width="0.9"><line x1="363.95" y1="277.5" x2="363.95" y2="294"/><line x1="361.45" y1="277.5" x2="366.45" y2="277.5"/><line x1="361.45" y1="294" x2="366.45" y2="294"/></g>
<circle cx="363.95" cy="287.0" r="2.2" fill="#000"/>
<circle cx="402.20" cy="288.5" r="2.35" fill="#a9a9a9"/>
<circle cx="402.20" cy="301.5" r="2.35" fill="#a9a9a9"/>
<circle cx="402.20" cy="304.2" r="2.35" fill="#a9a9a9"/>
<g stroke="#333" stroke-width="0.9"><line x1="402.20" y1="290.6" x2="402.20" y2="306.6"/><line x1="399.70" y1="290.6" x2="404.70" y2="290.6"/><line x1="399.70" y1="306.6" x2="404.70" y2="306.6"/></g>
<circle cx="402.20" cy="298.8" r="2.2" fill="#000"/>
<circle cx="440.45" cy="290" r="2.35" fill="#a9a9a9"/>
<circle cx="440.45" cy="312.8" r="2.35" fill="#a9a9a9"/>
<g stroke="#333" stroke-width="0.9"><line x1="440.45" y1="290" x2="440.45" y2="313"/><line x1="437.95" y1="290" x2="442.95" y2="290"/><line x1="437.95" y1="313" x2="442.95" y2="313"/></g>
<circle cx="440.45" cy="302.7" r="2.2" fill="#000"/>
<text x="242.40" y="383.00" font-size="10.2" font-weight="bold" stroke="#111" stroke-width="0.28" text-anchor="end" textLength="12.6" lengthAdjust="spacingAndGlyphs">0.0</text>
<text x="242.40" y="346.60" font-size="10.2" font-weight="bold" stroke="#111" stroke-width="0.28" text-anchor="end" textLength="12.6" lengthAdjust="spacingAndGlyphs">0.5</text>
<text x="242.40" y="310.20" font-size="10.2" font-weight="bold" stroke="#111" stroke-width="0.28" text-anchor="end" textLength="12.6" lengthAdjust="spacingAndGlyphs">1.0</text>
<text x="242.40" y="273.80" font-size="10.2" font-weight="bold" stroke="#111" stroke-width="0.28" text-anchor="end" textLength="12.6" lengthAdjust="spacingAndGlyphs">1.5</text>
<text x="249.20" y="394.60" font-size="10.2" font-weight="bold" stroke="#111" stroke-width="0.28" text-anchor="middle" textLength="5.8" lengthAdjust="spacingAndGlyphs">0</text>
<text x="287.45" y="394.60" font-size="10.2" font-weight="bold" stroke="#111" stroke-width="0.28" text-anchor="middle" textLength="10.6" lengthAdjust="spacingAndGlyphs">10</text>
<text x="325.70" y="394.60" font-size="10.2" font-weight="bold" stroke="#111" stroke-width="0.28" text-anchor="middle" textLength="10.6" lengthAdjust="spacingAndGlyphs">20</text>
<text x="363.95" y="394.60" font-size="10.2" font-weight="bold" stroke="#111" stroke-width="0.28" text-anchor="middle" textLength="10.6" lengthAdjust="spacingAndGlyphs">30</text>
<text x="402.20" y="394.60" font-size="10.2" font-weight="bold" stroke="#111" stroke-width="0.28" text-anchor="middle" textLength="10.6" lengthAdjust="spacingAndGlyphs">40</text>
<text x="440.45" y="394.60" font-size="10.2" font-weight="bold" stroke="#111" stroke-width="0.28" text-anchor="middle" textLength="10.6" lengthAdjust="spacingAndGlyphs">50</text>
<text x="314.60" y="406.20" font-size="9.6" font-weight="bold" stroke="#111" stroke-width="0.28" textLength="59.6" lengthAdjust="spacingAndGlyphs">[RhoA] (nM)</text>
<text transform="translate(221.8 338.8) rotate(-90)" font-size="11" font-weight="bold" stroke="#111" stroke-width="0.28" textLength="48.2" lengthAdjust="spacingAndGlyphs">A<tspan font-size="8.6" dy="2.6">450</tspan><tspan dy="-2.6"> (a.u.)</tspan></text>
<g font-size="11" fill="#2a2a2a"><text x="315.2" y="317.5" textLength="74.8" lengthAdjust="spacingAndGlyphs">K<tspan font-size="6.6" dy="4.2">d</tspan><tspan dy="-4.2">= 8.9 </tspan><tspan text-decoration="underline">+</tspan> 2.4 nM</text><text x="324.4" y="330.7" textLength="44" lengthAdjust="spacingAndGlyphs">R<tspan font-size="6.5" dy="-4">2</tspan><tspan dy="4"> = 0.95</tspan></text></g>
<g stroke="#1a1a1a" stroke-width="1.45" fill="none">
<line x1="486.3" y1="256.3" x2="486.3" y2="383.8"/>
<line x1="486.3" y1="383.8" x2="678.40" y2="383.8"/>
<line x1="481.3" y1="383.80" x2="486.3" y2="383.80"/>
<line x1="481.3" y1="332.95" x2="486.3" y2="332.95"/>
<line x1="481.3" y1="282.10" x2="486.3" y2="282.10"/>
<line x1="486.30" y1="383.8" x2="486.30" y2="389.8"/>
<line x1="524.60" y1="383.8" x2="524.60" y2="389.8"/>
<line x1="562.90" y1="383.8" x2="562.90" y2="389.8"/>
<line x1="601.20" y1="383.8" x2="601.20" y2="389.8"/>
<line x1="639.50" y1="383.8" x2="639.50" y2="389.8"/>
<line x1="677.80" y1="383.8" x2="677.80" y2="389.8"/>
</g>
<path d="M486.30,383.40 C486.80,381.17 488.37,373.78 489.30,370.00 C490.23,366.22 490.80,364.15 491.90,360.70 C493.00,357.25 494.57,352.83 495.90,349.30 C497.23,345.77 498.35,342.88 499.90,339.50 C501.45,336.12 503.43,332.30 505.20,329.00 C506.97,325.70 508.52,322.80 510.50,319.70 C512.48,316.60 514.90,313.27 517.10,310.40 C519.30,307.53 521.28,304.70 523.70,302.50 C526.12,300.30 528.52,298.83 531.60,297.20 C534.68,295.57 538.67,293.90 542.20,292.70 C545.73,291.50 549.27,290.67 552.80,290.00 C556.33,289.33 559.43,288.95 563.40,288.70 C567.37,288.45 570.45,288.28 576.60,288.50 C582.75,288.72 593.07,289.25 600.30,290.00 C607.53,290.75 613.48,291.90 620.00,293.00 C626.52,294.10 629.82,294.55 639.40,296.60 C648.98,298.65 671.15,303.85 677.50,305.30" fill="none" stroke="#111" stroke-width="1.1"/>
<circle cx="486.30" cy="383.5" r="2.2" fill="#000"/>
<circle cx="488.22" cy="368.2" r="2.35" fill="#a9a9a9"/>
<circle cx="488.22" cy="379.4" r="2.35" fill="#a9a9a9"/>
<g stroke="#333" stroke-width="0.9"><line x1="488.22" y1="366.5" x2="488.22" y2="381"/><line x1="485.72" y1="366.5" x2="490.72" y2="366.5"/><line x1="485.72" y1="381" x2="490.72" y2="381"/></g>
<circle cx="488.22" cy="373.8" r="2.2" fill="#000"/>
<circle cx="490.13" cy="350.8" r="2.35" fill="#a9a9a9"/>
<circle cx="490.13" cy="362" r="2.35" fill="#a9a9a9"/>
<g stroke="#333" stroke-width="0.9"><line x1="490.13" y1="350" x2="490.13" y2="363"/><line x1="487.63" y1="350" x2="492.63" y2="350"/><line x1="487.63" y1="363" x2="492.63" y2="363"/></g>
<circle cx="490.13" cy="355.5" r="2.2" fill="#000"/>
<circle cx="497.79" cy="334.4" r="2.35" fill="#a9a9a9"/>
<circle cx="497.79" cy="344.4" r="2.35" fill="#a9a9a9"/>
<g stroke="#333" stroke-width="0.9"><line x1="497.79" y1="333" x2="497.79" y2="345.5"/><line x1="495.29" y1="333" x2="500.29" y2="333"/><line x1="495.29" y1="345.5" x2="500.29" y2="345.5"/></g>
<circle cx="497.79" cy="338.8" r="2.2" fill="#000"/>
<circle cx="524.60" cy="301.6" r="2.35" fill="#a9a9a9"/>
<circle cx="524.60" cy="317.2" r="2.35" fill="#a9a9a9"/>
<g stroke="#333" stroke-width="0.9"><line x1="524.60" y1="300.5" x2="524.60" y2="318.5"/><line x1="522.10" y1="300.5" x2="527.10" y2="300.5"/><line x1="522.10" y1="318.5" x2="527.10" y2="318.5"/></g>
<circle cx="524.60" cy="309.4" r="2.2" fill="#000"/>
<circle cx="562.90" cy="275.2" r="2.35" fill="#a9a9a9"/>
<circle cx="562.90" cy="290.6" r="2.35" fill="#a9a9a9"/>
<g stroke="#333" stroke-width="0.9"><line x1="562.90" y1="274" x2="562.90" y2="291"/><line x1="560.40" y1="274" x2="565.40" y2="274"/><line x1="560.40" y1="291" x2="565.40" y2="291"/></g>
<circle cx="562.90" cy="281.0" r="2.2" fill="#000"/>
<circle cx="601.20" cy="285.2" r="2.35" fill="#a9a9a9"/>
<circle cx="601.20" cy="298.4" r="2.35" fill="#a9a9a9"/>
<g stroke="#333" stroke-width="0.9"><line x1="601.20" y1="284" x2="601.20" y2="298.6"/><line x1="598.70" y1="284" x2="603.70" y2="284"/><line x1="598.70" y1="298.6" x2="603.70" y2="298.6"/></g>
<circle cx="601.20" cy="290.3" r="2.2" fill="#000"/>
<circle cx="639.50" cy="296" r="2.35" fill="#a9a9a9"/>
<circle cx="639.50" cy="305.3" r="2.35" fill="#a9a9a9"/>
<g stroke="#333" stroke-width="0.9"><line x1="639.50" y1="294.5" x2="639.50" y2="306.5"/><line x1="637.00" y1="294.5" x2="642.00" y2="294.5"/><line x1="637.00" y1="306.5" x2="642.00" y2="306.5"/></g>
<circle cx="639.50" cy="300.6" r="2.2" fill="#000"/>
<circle cx="677.80" cy="300.8" r="2.35" fill="#a9a9a9"/>
<circle cx="677.80" cy="311.6" r="2.35" fill="#a9a9a9"/>
<g stroke="#333" stroke-width="0.9"><line x1="677.80" y1="299" x2="677.80" y2="312"/><line x1="675.30" y1="299" x2="680.30" y2="299"/><line x1="675.30" y1="312" x2="680.30" y2="312"/></g>
<circle cx="677.80" cy="304.7" r="2.2" fill="#000"/>
<text x="479.80" y="388.30" font-size="10.2" font-weight="bold" stroke="#111" stroke-width="0.28" text-anchor="end" textLength="13.6" lengthAdjust="spacingAndGlyphs">0.0</text>
<text x="479.80" y="337.45" font-size="10.2" font-weight="bold" stroke="#111" stroke-width="0.28" text-anchor="end" textLength="13.6" lengthAdjust="spacingAndGlyphs">1.0</text>
<text x="479.80" y="286.60" font-size="10.2" font-weight="bold" stroke="#111" stroke-width="0.28" text-anchor="end" textLength="13.6" lengthAdjust="spacingAndGlyphs">2.0</text>
<text x="486.30" y="400.20" font-size="10" font-weight="bold" stroke="#111" stroke-width="0.28" text-anchor="middle" textLength="5.6" lengthAdjust="spacingAndGlyphs">0</text>
<text x="524.60" y="400.20" font-size="10" font-weight="bold" stroke="#111" stroke-width="0.28" text-anchor="middle" textLength="5.6" lengthAdjust="spacingAndGlyphs">1</text>
<text x="562.90" y="400.20" font-size="10" font-weight="bold" stroke="#111" stroke-width="0.28" text-anchor="middle" textLength="5.6" lengthAdjust="spacingAndGlyphs">2</text>
<text x="601.20" y="400.20" font-size="10" font-weight="bold" stroke="#111" stroke-width="0.28" text-anchor="middle" textLength="5.6" lengthAdjust="spacingAndGlyphs">3</text>
<text x="639.50" y="400.20" font-size="10" font-weight="bold" stroke="#111" stroke-width="0.28" text-anchor="middle" textLength="5.6" lengthAdjust="spacingAndGlyphs">4</text>
<text x="677.80" y="400.20" font-size="10" font-weight="bold" stroke="#111" stroke-width="0.28" text-anchor="middle" textLength="5.6" lengthAdjust="spacingAndGlyphs">5</text>
<text x="551.50" y="410.00" font-size="9.6" font-weight="bold" stroke="#111" stroke-width="0.28" textLength="59.9" lengthAdjust="spacingAndGlyphs">[RhoA] (μM)</text>
<text transform="translate(457.6 345.0) rotate(-90)" font-size="11" font-weight="bold" stroke="#111" stroke-width="0.28" textLength="48.2" lengthAdjust="spacingAndGlyphs">A<tspan font-size="8.6" dy="2.6">450</tspan><tspan dy="-2.6"> (a.u.)</tspan></text>
<g font-size="11" fill="#2a2a2a"><text x="549.5" y="326.8" textLength="80.2" lengthAdjust="spacingAndGlyphs">K<tspan font-size="6.6" dy="4.2">d</tspan><tspan dy="-4.2">= 840 </tspan><tspan text-decoration="underline">+</tspan> 200 nM</text><text x="559.2" y="338.9" textLength="43.4" lengthAdjust="spacingAndGlyphs">R<tspan font-size="6.5" dy="-4">2</tspan><tspan dy="4"> = 0.96</tspan></text></g>
<text x="23.8" y="18.8" font-size="22.3" font-weight="bold">A</text>
<text x="398.3" y="18.8" font-size="22.3" font-weight="bold">B</text>
<text x="4.9" y="253.1" font-size="22.3" font-weight="bold">C</text>
<text x="231.1" y="256.0" font-size="22.3" font-weight="bold">D</text>
<text x="458.3" y="253.7" font-size="22.3" font-weight="bold">E</text>
</g></svg>
</body></html>
